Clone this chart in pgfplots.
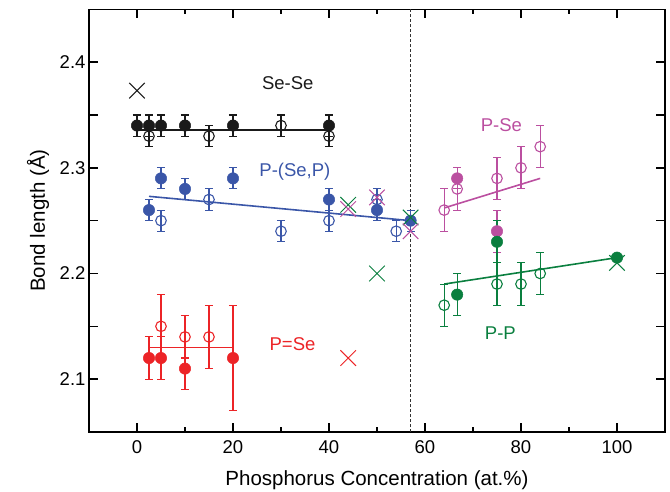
\documentclass[border=0pt]{standalone}
\usepackage{pgfplots}
\pgfplotsset{compat=1.18}
\usepackage{fontspec}
\setmainfont{Liberation Sans}
\definecolor{cblack}{HTML}{1A1A1A}
\definecolor{cblue}{HTML}{3A56A8}
\definecolor{cred}{HTML}{EC2427}
\definecolor{cgreen}{HTML}{0A7F3F}
\definecolor{cmag}{HTML}{BB4FA0}
\pgfplotsset{
  errstyle/.style={error bars/.cd, y dir=both, y explicit,
    error bar style={line width=1.1pt},
    error mark options={rotate=90, mark size=4pt, line width=1.1pt}},
  openpt/.style={only marks, mark=o, mark size=5.3pt, line width=1.1pt,
    mark options={fill=white, line width=1.1pt}, errstyle},
  fillpt/.style={only marks, mark=*, mark size=5.7pt, line width=1.1pt,
    mark options={line width=0.5pt}, errstyle},
  fitline/.style={no marks, line width=1.6pt},
  crosspt/.style={only marks, mark=x, mark size=11pt, line width=1pt, mark options={line width=1pt}},
}
\begin{document}
\begin{tikzpicture}[font=\fontsize{18.5}{21}\selectfont]
\begin{axis}[
  scale only axis, width=576pt, height=422.7pt,
  xmin=-10, xmax=110, ymin=2.05, ymax=2.45,
  xtick={0,20,40,60,80,100}, minor xtick={10,30,50,70,90},
  ytick={2.1,2.15,2.2,2.25,2.3,2.35,2.4},
  yticklabels={2.1,,2.2,,2.3,,2.4},
  tick align=inside,
  major tick length=9pt, minor tick length=5pt,
  axis line style={line width=1.6pt},
  every tick/.style={line width=1.4pt, black},
  /pgf/number format/assume math mode=true,
  ticklabel style={font=\fontsize{18.5}{21}\selectfont},
  xticklabel style={yshift=-5pt},
  xlabel={Phosphorus Concentration (at.\%)},
  ylabel={Bond length (Å)},
  label style={font=\fontsize{20.5}{23}\selectfont},
  xlabel style={at={(axis description cs:0.5,-0.1136)}, anchor=center},
  ylabel style={at={(axis description cs:-0.0885,0.5)}, anchor=center},
]
% dashed separator
\addplot[black!80, line width=0.9pt, dash pattern=on 3pt off 2pt] coordinates {(57,2.05) (57,2.45)};
% fit lines
\addplot[cblack, fitline] coordinates {(0,2.336) (40,2.336)};
\addplot[cblue, fitline] coordinates {(2.5,2.273) (57,2.25)};
\addplot[cred, fitline] coordinates {(2.5,2.13) (20,2.13)};
\addplot[cmag, fitline] coordinates {(64,2.262) (84,2.29)};
\addplot[cgreen, fitline] coordinates {(64,2.19) (100,2.215)};
% Se-Se
\addplot[cblack, openpt] table[x=x, y=y, y error=e] {
x y e
2.5 2.33 0.01
15 2.33 0.01
30 2.34 0.01
40 2.33 0.01
};
\addplot[cblack, fillpt] table[x=x, y=y, y error=e] {
x y e
0 2.34 0.01
2.5 2.34 0.01
5 2.34 0.01
10 2.34 0.01
20 2.34 0.01
40 2.34 0.01
};
% P-(Se,P)
\addplot[cblue, openpt] table[x=x, y=y, y error=e] {
x y e
5 2.25 0.01
15 2.27 0.01
30 2.24 0.01
40 2.25 0.01
50 2.27 0.01
54 2.24 0.01
};
\addplot[cblue, fillpt] table[x=x, y=y, y error=e] {
x y e
2.5 2.26 0.01
5 2.29 0.01
10 2.28 0.01
20 2.29 0.01
40 2.27 0.01
50 2.26 0.01
57 2.25 0.01
};
% P=Se
\addplot[cred, openpt] table[x=x, y=y, y error=e] {
x y e
5 2.15 0.03
10 2.14 0.02
15 2.14 0.03
};
\addplot[cred, fillpt] table[x=x, y=y, y error=e] {
x y e
2.5 2.12 0.02
5 2.12 0.02
10 2.11 0.02
20 2.12 0.05
};
% P-Se
\addplot[cmag, fillpt] table[x=x, y=y, y error=e] {
x y e
66.7 2.29 0.01
75 2.24 0.02
};
\addplot[cmag, openpt] table[x=x, y=y, y error=e] {
x y e
64 2.26 0.02
66.7 2.28 0.02
75 2.29 0.02
80 2.30 0.02
84 2.32 0.02
};
% P-P
\addplot[cgreen, openpt] table[x=x, y=y, y error=e] {
x y e
64 2.17 0.02
75 2.19 0.02
80 2.19 0.02
84 2.20 0.02
};
\addplot[cgreen, fillpt] table[x=x, y=y, y error=e] {
x y e
66.7 2.18 0.02
75 2.23 0.02
100 2.215 0.003
};
% crosses
\addplot[cblack, crosspt] coordinates {(0,2.373)};
\addplot[cred, crosspt] coordinates {(44,2.12)};
\addplot[cgreen, crosspt] coordinates {(44,2.265) (50,2.20) (57,2.253) (100,2.21)};
\addplot[cmag, crosspt] coordinates {(44,2.261) (50,2.272) (57,2.24)};
% labels
\node[cblack] at (axis cs:31.4,2.38) {Se-Se};
\node[cblue] at (axis cs:32.9,2.296) {P-(Se,P)};
\node[cred] at (axis cs:32.4,2.133) {P=Se};
\node[cmag] at (axis cs:75.9,2.34) {P-Se};
\node[cgreen] at (axis cs:75.7,2.144) {P-P};
\end{axis}
\pgfresetboundingbox
\useasboundingbox (-89pt,-59pt) rectangle (581pt,432pt);
\end{tikzpicture}
\end{document}
